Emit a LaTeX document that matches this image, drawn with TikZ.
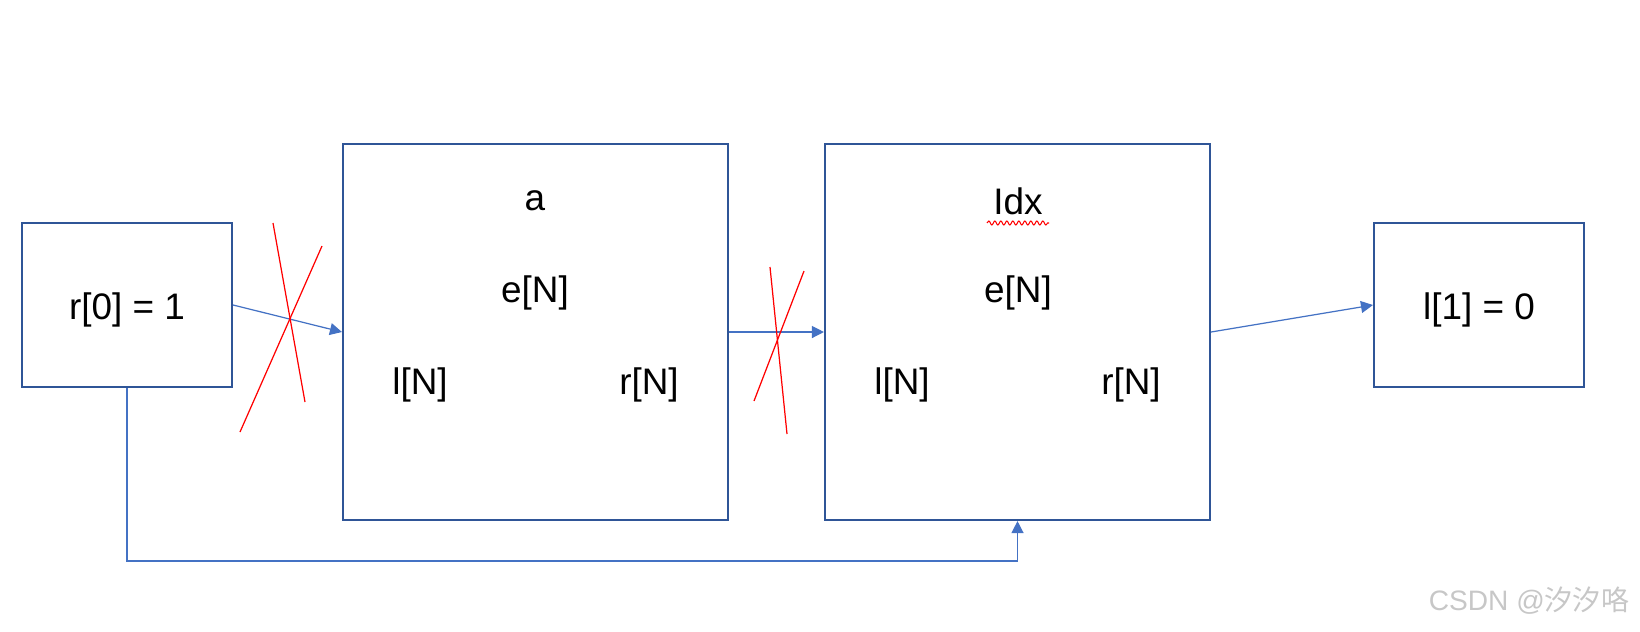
\documentclass[tikz,border=0pt]{standalone}
\usepackage{fontspec}
\setmainfont{Liberation Sans}
\newfontfamily\cjk{Noto Sans CJK SC}
\usepackage{xcolor}
\usetikzlibrary{calc, arrows.meta, decorations.pathmorphing}

\definecolor{boxblue}{HTML}{2F5597}
\definecolor{linkblue}{HTML}{4472C4}

\begin{document}
\begin{tikzpicture}[
    every node/.style={font=\fontsize{10.5}{12}\selectfont},
    block/.style={draw=boxblue, line width=0.6pt, fill=white, inner sep=0pt, text height=3.75mm, text depth=0.8mm},
    link/.style={draw=linkblue, line width=0.35pt, -{Triangle[length=1.2mm,width=1.2mm]}},
    cross/.style={draw=red, line width=0.35pt}
  ]
    \useasboundingbox (0,0) rectangle (16.4,6.31);

    % Boxes
    \node[block, minimum width=2.10cm, minimum height=1.64cm] (r0) at (1.27,3.26) {r[0] = 1};
    \node[block, minimum width=3.85cm, minimum height=3.76cm] (a) at (5.355,2.99) {};
    \node[block, minimum width=3.85cm, minimum height=3.76cm] (idx) at (10.175,2.99) {};
    \node[block, minimum width=2.10cm, minimum height=1.64cm] (l1) at (14.79,3.26) {l[1] = 0};

    % Labels inside a
    \node (aname) at (5.35,4.30) {a};
    \node (ae) at (5.35,3.38) {e[N]};
    \node (al) at (4.20,2.46) {l[N]};
    \node (ar) at (6.49,2.46) {r[N]};

    % Labels inside Idx
    \node (idxname) at (10.18,4.30) {Idx};
    \node (idxe) at (10.18,3.38) {e[N]};
    \node (idxl) at (9.02,2.46) {l[N]};
    \node (idxr) at (11.31,2.46) {r[N]};
    \draw[red, line width=0.3pt, decorate, decoration={snake, amplitude=0.2mm, segment length=0.6mm}]
        ($(idxname.south west)+(0.06,0.04)$) -- ($(idxname.south east)+(-0.06,0.04)$);

    % Arrows
    \draw[link] (r0.east) -- (a.west);
    \draw[link] (a.east) -- (idx.west);
    \draw[link] (idx.east) -- (l1.west);
    \draw[link] (r0.south) |- ($(idx.south)+(0,-0.40)$) -- (idx.south);

    % Crossed out
    \draw[cross] (2.73,4.08) -- (3.05,2.29);
    \draw[cross] (3.22,3.85) -- (2.40,1.99);
    \draw[cross] (7.70,3.64) -- (7.87,1.97);
    \draw[cross] (8.04,3.60) -- (7.54,2.30);

    % Watermark
    \node[text=black!22, font=\fontsize{8}{9}\selectfont] (mark) at (15.29,0.30) {CSDN @{\cjk 汐汐咯}};
\end{tikzpicture}
\end{document}
